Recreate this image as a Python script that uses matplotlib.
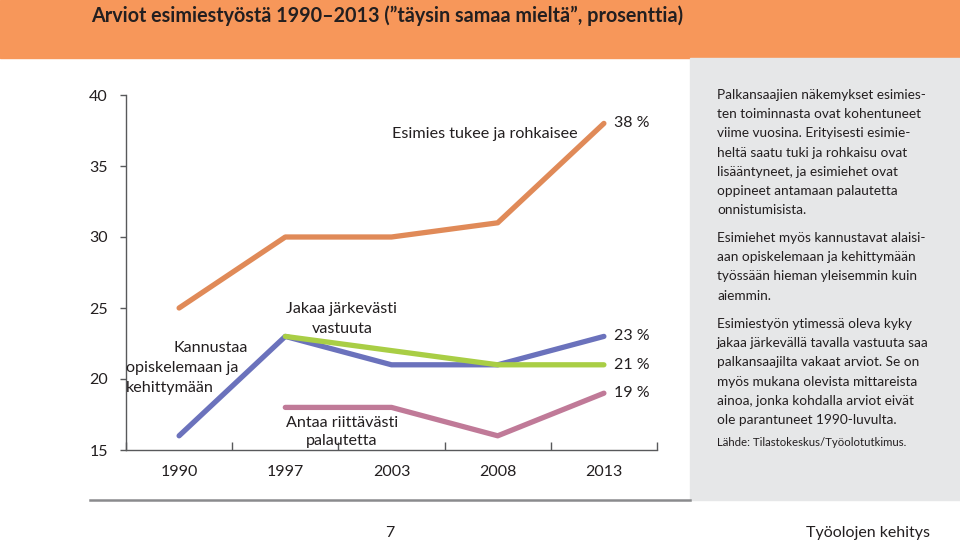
import numpy as np
import matplotlib
matplotlib.use("Agg")
import matplotlib.pyplot as plt
from matplotlib.patches import Rectangle
from matplotlib.lines import Line2D

plt.rcParams['font.family'] = ['Lato', 'DejaVu Sans']

# data
years = ['1990', '1997', '2003', '2008', '2013']
tukee = [25, 30, 30, 31, 38]          # Esimies tukee ja rohkaisee
kannustaa = [16, 23, 21, 21, 23]      # Kannustaa opiskelemaan ja kehittymään
jakaa = [np.nan, 23, 22, 21, 21]      # Jakaa järkevästi vastuuta
palaute = [np.nan, 18, 18, 16, 19]    # Antaa riittävästi palautetta
yticks = [15, 20, 25, 30, 35, 40]

title = "Arviot esimiestyöstä 1990–2013 (”täysin samaa mieltä”, prosenttia)"
para1 = ["Palkansaajien näkemykset esimies-",
         "ten toiminnasta ovat kohentuneet",
         "viime vuosina. Erityisesti esimie-",
         "heltä saatu tuki ja rohkaisu ovat",
         "lisääntyneet, ja esimiehet ovat",
         "oppineet antamaan palautetta",
         "onnistumisista."]
para2 = ["Esimiehet myös kannustavat alaisi-",
         "aan opiskelemaan ja kehittymään",
         "työssään hieman yleisemmin kuin",
         "aiemmin."]
para3 = ["Esimiestyön ytimessä oleva kyky",
         "jakaa järkevällä tavalla vastuuta saa",
         "palkansaajilta vakaat arviot. Se on",
         "myös mukana olevista mittareista",
         "ainoa, jonka kohdalla arviot eivät",
         "ole parantuneet 1990-luvulta."]
source = "Lähde: Tilastokeskus/Työolotutkimus."

c_orange = '#E08A58'
c_blue = '#6B72BC'
c_green = '#A9CE45'
c_pink = '#C07A98'
txt = '#231F20'
axcol = '#58595B'

W, H = 960, 545
fig = plt.figure(figsize=(9.6, 5.45), dpi=100)

def fx(x):
    return x / W

def fy(y):
    return 1 - y / H

# background boxes
fig.patches.append(Rectangle((0, fy(58)), 1, 58 / H, transform=fig.transFigure,
                             color='#F7975A', zorder=0))
fig.patches.append(Rectangle((fx(690), fy(500)), 270 / W, 442 / H, transform=fig.transFigure,
                             color='#E6E7E8', zorder=0))
fig.lines.append(Line2D([fx(90), fx(690)], [fy(500), fy(500)], transform=fig.transFigure,
                        color='#8A8B8D', lw=1.8))

fig.text(fx(91), fy(22), title, fontsize=14.2, fontweight='bold', color=txt,
         va='baseline')

# chart
ax = fig.add_axes([fx(126), 95 / H, 531 / W, 355 / H])
x = np.arange(len(years))
lw = 3.8
ax.plot(x, tukee, color=c_orange, lw=lw, solid_capstyle='round')
ax.plot(x, kannustaa, color=c_blue, lw=lw, solid_capstyle='round')
ax.plot(x, jakaa, color=c_green, lw=lw, solid_capstyle='round')
ax.plot(x, palaute, color=c_pink, lw=lw, solid_capstyle='round')

ax.set_xlim(-0.5, len(years) - 0.5)
ax.set_ylim(15, 40)
ax.set_yticks(yticks)
ax.set_xticks(x)
ax.set_xticklabels(years)
ax.set_xticks(np.arange(len(years) + 1) - 0.5, minor=True)
ax.tick_params(axis='x', which='major', length=0, pad=11, labelsize=11.5, labelcolor=txt)
ax.tick_params(axis='x', which='minor', direction='in', length=6, color=axcol, width=1)
ax.tick_params(axis='y', direction='out', length=4, color=axcol, width=1, pad=9,
               labelsize=11.5, labelcolor=txt)
for s in ['top', 'right']:
    ax.spines[s].set_visible(False)
for s in ['left', 'bottom']:
    ax.spines[s].set_color(axcol)
    ax.spines[s].set_linewidth(1)
ax.patch.set_alpha(0)

for series in [tukee, kannustaa, jakaa, palaute]:
    v = series[-1]
    ax.annotate(f"{v} %", xy=(x[-1], v), xytext=(7, 0), textcoords='offset points',
                va='center', ha='left', fontsize=11.5, color=txt)

lab = dict(fontsize=11.6, color=txt, va='baseline')
fig.text(fx(485), fy(138), "Esimies tukee ja rohkaisee", ha='center', **lab)
fig.text(fx(342), fy(313), "Jakaa järkevästi", ha='center', **lab)
fig.text(fx(342), fy(333), "vastuuta", ha='center', **lab)
fig.text(fx(211), fy(352), "Kannustaa", ha='center', **lab)
fig.text(fx(126), fy(372), "opiskelemaan ja", ha='left', **lab)
fig.text(fx(126), fy(392), "kehittymään", ha='left', **lab)
fig.text(fx(342), fy(427), "Antaa riittävästi", ha='center', **lab)
fig.text(fx(342), fy(445), "palautetta", ha='center', **lab)

# side panel text
pt = dict(fontsize=9.8, color=txt, va='baseline', ha='left')
for i, line in enumerate(para1):
    fig.text(fx(717), fy(99 + i * 19.2), line, **pt)
for i, line in enumerate(para2):
    fig.text(fx(717), fy(242 + i * 19.2), line, **pt)
for i, line in enumerate(para3):
    fig.text(fx(717), fy(328 + i * 19.2), line, **pt)
fig.text(fx(717), fy(446), source, fontsize=8.2, color=txt, va='baseline', ha='left')

# footer
fig.text(fx(390), fy(537), "7", fontsize=11.5, color=txt, va='baseline', ha='center')
fig.text(fx(930), fy(537), "Työolojen kehitys", fontsize=11.5, color=txt, va='baseline', ha='right')

fig.savefig('out.png', dpi=100)
